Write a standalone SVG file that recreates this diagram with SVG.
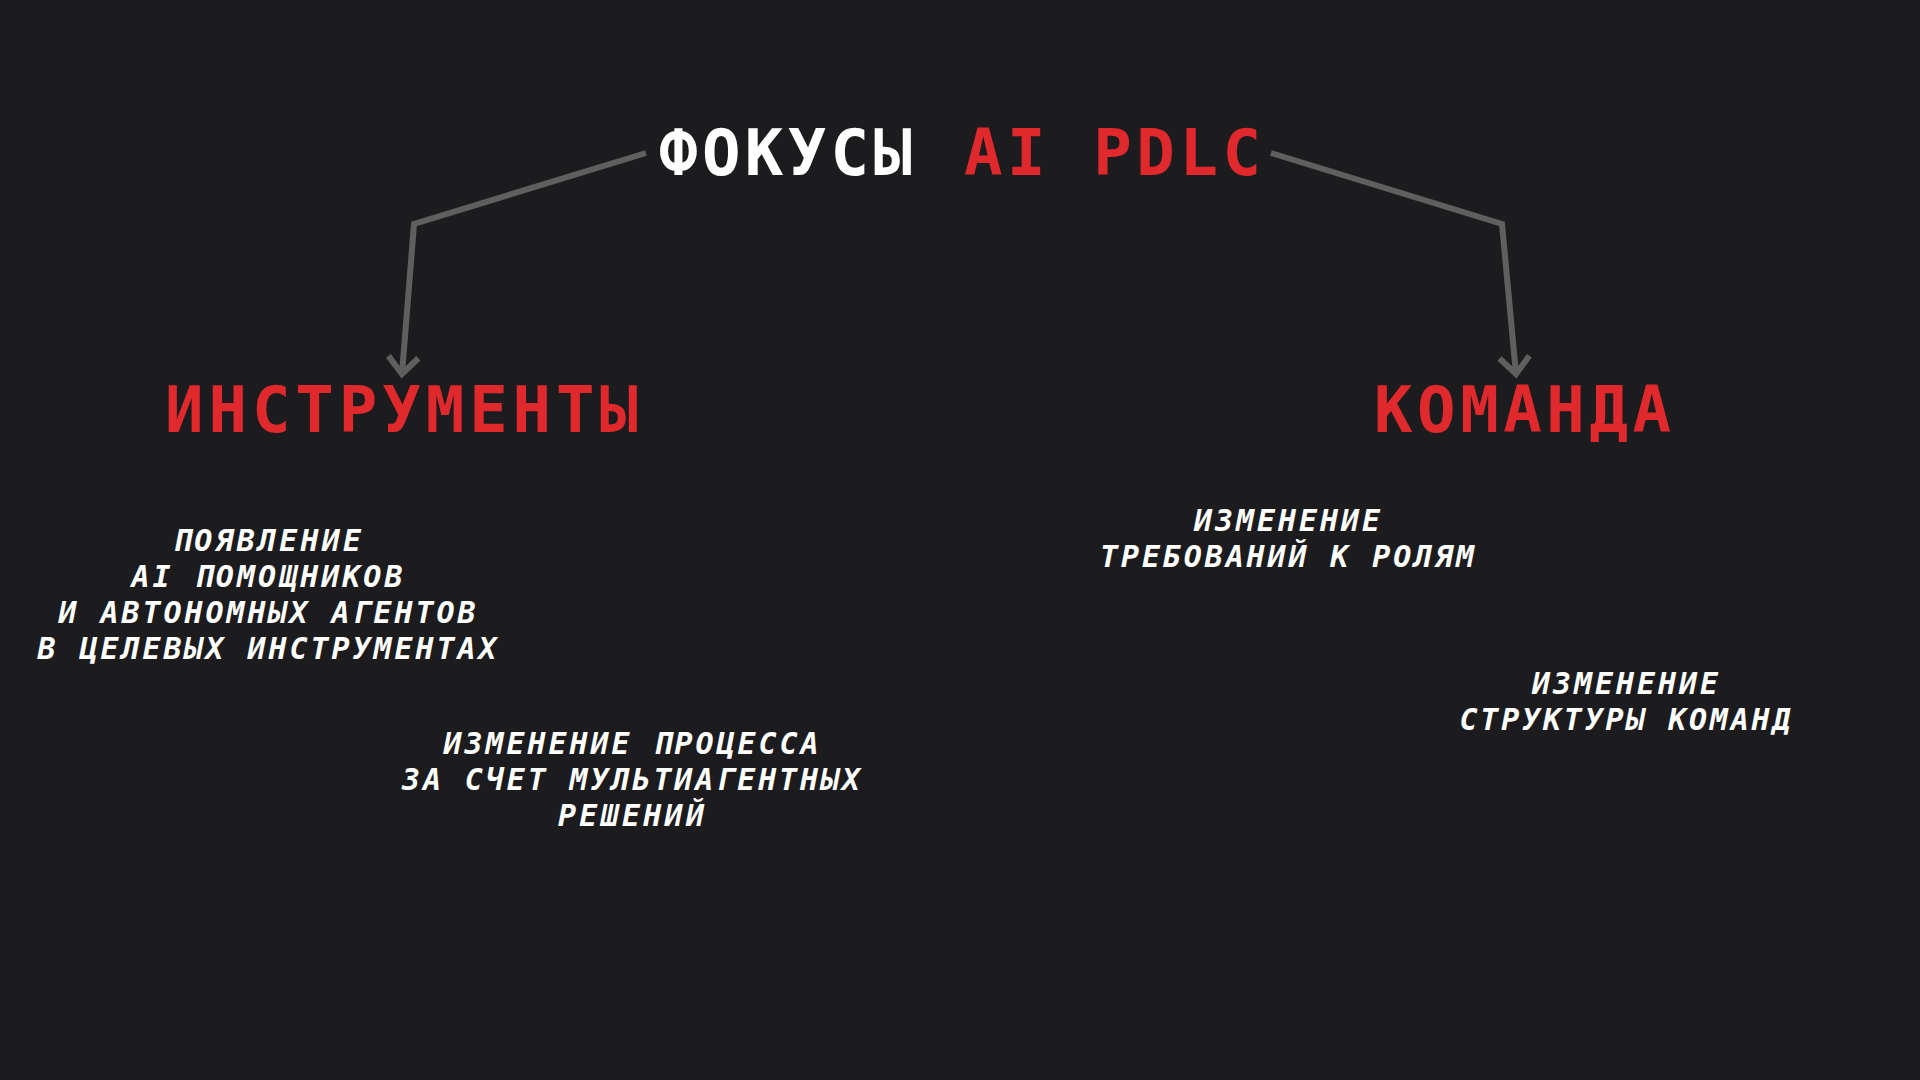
<svg xmlns="http://www.w3.org/2000/svg" width="1920" height="1080" viewBox="0 0 1920 1080">
  <style>
    .head { font-family: "DejaVu Sans Mono", "Liberation Mono", monospace; font-weight: bold; font-size: 64px; }
    .white { fill: #ffffff; }
    .red { fill: #e0292d; }
    .body { font-family: "DejaVu Sans Mono", "Liberation Mono", monospace; font-weight: bold; font-style: italic; font-size: 30px; fill: #ffffff; text-anchor: middle; }
    .conn { fill: none; stroke: #5f5f5f; stroke-width: 6; stroke-linejoin: miter; }
  </style>
  <defs>
    <marker id="vhead" viewBox="-24 -24 48 48" markerWidth="48" markerHeight="48" refX="0" refY="0" markerUnits="userSpaceOnUse" orient="auto">
      <path d="M -17 -15 L 0 0 L -17 15" fill="none" stroke="#5f5f5f" stroke-width="6"/>
    </marker>
  </defs>
  <rect width="1920" height="1080" fill="#1c1c1e"/>

  <g id="connectors">
    <polyline class="conn" points="646,153 414,224 402,374" marker-end="url(#vhead)"/>
    <polyline class="conn" points="1271,153 1502,224 1516,374" marker-end="url(#vhead)"/>
  </g>

  <g id="title">
    <text class="head white" x="659" y="175" textLength="253" lengthAdjust="spacing">ФОКУСЫ</text>
    <text class="head red" x="964" y="175" textLength="297" lengthAdjust="spacing">AI PDLC</text>
  </g>

  <g id="node-instruments">
    <text class="head red" x="165" y="432" textLength="473" lengthAdjust="spacing">ИНСТРУМЕНТЫ</text>
  </g>

  <g id="node-team">
    <text class="head red" x="1374" y="432" textLength="297" lengthAdjust="spacing">КОМАНДА</text>
  </g>

  <g id="note-assistants">
    <text class="body" x="267" y="551" textLength="188" lengthAdjust="spacing">ПОЯВЛЕНИЕ</text>
    <text class="body" x="267" y="587" textLength="271" lengthAdjust="spacing">AI ПОМОЩНИКОВ</text>
    <text class="body" x="267" y="623" textLength="417" lengthAdjust="spacing">И АВТОНОМНЫХ АГЕНТОВ</text>
    <text class="body" x="267" y="659" textLength="459" lengthAdjust="spacing">В ЦЕЛЕВЫХ ИНСТРУМЕНТАХ</text>
  </g>

  <g id="note-process">
    <text class="body" x="631" y="754" textLength="375" lengthAdjust="spacing">ИЗМЕНЕНИЕ ПРОЦЕССА</text>
    <text class="body" x="631" y="790" textLength="458" lengthAdjust="spacing">ЗА СЧЕТ МУЛЬТИАГЕНТНЫХ</text>
    <text class="body" x="631" y="826" textLength="146" lengthAdjust="spacing">РЕШЕНИЙ</text>
  </g>

  <g id="note-roles">
    <text class="body" x="1287" y="531" textLength="186" lengthAdjust="spacing">ИЗМЕНЕНИЕ</text>
    <text class="body" x="1287" y="567" textLength="374" lengthAdjust="spacing">ТРЕБОВАНИЙ К РОЛЯМ</text>
  </g>

  <g id="note-structure">
    <text class="body" x="1625" y="694" textLength="186" lengthAdjust="spacing">ИЗМЕНЕНИЕ</text>
    <text class="body" x="1625" y="730" textLength="331" lengthAdjust="spacing">СТРУКТУРЫ КОМАНД</text>
  </g>
</svg>
